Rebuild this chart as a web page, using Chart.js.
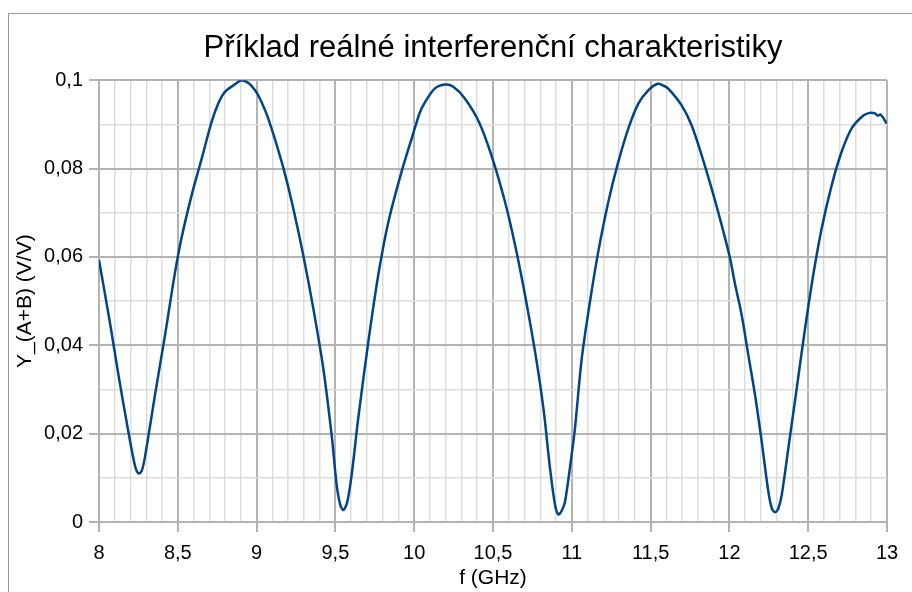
<!DOCTYPE html>
<html>
<head>
<meta charset="utf-8">
<script src="https://cdn.jsdelivr.net/npm/chart.js@4"></script>
<style>
  html, body { margin: 0; padding: 0; background: #fff; }
  #wrap { width: 912px; height: 592px; }
</style>
</head>
<body>
<div id="wrap"><canvas id="chart" width="912" height="592"></canvas></div>
<script>
var freq = [8.00, 8.07, 8.12, 8.186, 8.228, 8.25, 8.27, 8.29, 8.355, 8.419, 8.48, 8.525, 8.588, 8.652, 8.715, 8.76, 8.80, 8.86, 8.905, 8.95, 8.99, 9.02,
  9.074, 9.159, 9.223, 9.296, 9.36, 9.423, 9.476, 9.508, 9.53, 9.55, 9.575, 9.603, 9.645, 9.709, 9.772, 9.836, 9.92, 9.984,
  10.037, 10.07, 10.13, 10.195, 10.248, 10.32, 10.41, 10.49, 10.576, 10.64, 10.703, 10.767, 10.82, 10.862, 10.894, 10.915, 10.935, 10.957, 10.999,
  11.02, 11.063, 11.115, 11.168, 11.232, 11.295, 11.359, 11.422, 11.485, 11.545, 11.58, 11.612, 11.697, 11.76, 11.824, 11.887, 11.951,
  12.004, 12.035, 12.078, 12.12, 12.163, 12.205, 12.247, 12.27, 12.29, 12.31, 12.332, 12.374, 12.427, 12.48, 12.532, 12.585, 12.649, 12.712, 12.776,
  12.85, 12.89, 12.924, 12.94, 12.96, 12.998];
var yAB = [0.0593, 0.0450, 0.0340, 0.0205, 0.0128, 0.0110, 0.0115, 0.0144, 0.0287, 0.0423, 0.0560, 0.0645, 0.0740, 0.0823, 0.0906, 0.0950, 0.0974, 0.0990, 0.1000, 0.0993, 0.0977, 0.0959,
  0.0913, 0.0815, 0.0725, 0.0604, 0.0483, 0.0348, 0.0197, 0.0084, 0.0040, 0.0027, 0.0045, 0.0106, 0.0235, 0.0408, 0.0559, 0.0679, 0.0793, 0.0868,
  0.0928, 0.0951, 0.0981, 0.0990, 0.0985, 0.0959, 0.0906, 0.0830, 0.0725, 0.0627, 0.0514, 0.0385, 0.0257, 0.0121, 0.0038, 0.0017, 0.0025, 0.0046, 0.0152,
  0.0212, 0.0370, 0.0498, 0.0612, 0.0725, 0.0815, 0.0891, 0.0947, 0.0977, 0.0992, 0.0988, 0.0981, 0.0943, 0.0898, 0.0830, 0.0755, 0.0672,
  0.0597, 0.0540, 0.0468, 0.0378, 0.0287, 0.0182, 0.0069, 0.0030, 0.0022, 0.0030, 0.0061, 0.0167, 0.0302, 0.0438, 0.0559, 0.0664, 0.0762, 0.0838, 0.0891,
  0.0920, 0.0926, 0.0925, 0.0920, 0.0922, 0.0902];

var majorColor = '#b3b3b3';
var minorColor = '#dddddd';
var font = 'Liberation Sans';

function xMajor(v) { return Math.round(v * 10) % 5 === 0; }
function yMajor(v) { return Math.round(v * 100) % 2 === 0; }
function comma(v) { return String(v).replace('.', ','); }

var points = freq.map(function (f, i) { return { x: f, y: yAB[i] }; });

var frame = {
  id: 'frame',
  afterDraw: function (chart) {
    var c = chart.ctx;
    c.save();
    c.strokeStyle = '#999999';
    c.lineWidth = 1;
    c.strokeRect(8.5, 13.5, 1000, 1000);
    c.restore();
  }
};

new Chart(document.getElementById('chart'), {
  type: 'scatter',
  data: {
    datasets: [{
      data: points,
      showLine: true,
      borderColor: '#004586',
      borderWidth: 2.5,
      pointRadius: 0,
      tension: 0.3
    }]
  },
  options: {
    responsive: false,
    animation: false,
    devicePixelRatio: 1,
    layout: { padding: { left: 0, right: 25, top: 0, bottom: 0 } },
    plugins: {
      legend: { display: false },
      tooltip: { enabled: false },
      title: {
        display: true,
        text: 'Příklad reálné interferenční charakteristiky',
        fullSize: false,
        color: '#000',
        font: { family: font, size: 31, weight: 'normal' },
        padding: { top: 30, bottom: 13 }
      }
    },
    scales: {
      x: {
        type: 'linear',
        min: 8,
        max: 13,
        afterFit: function (s) { s.height = 70; },
        ticks: {
          stepSize: 0.1,
          autoSkip: false,
          maxRotation: 0,
          padding: 9,
          color: '#000',
          font: { family: font, size: 20 },
          callback: function (v) { return xMajor(v) ? comma(Math.round(v * 10) / 10) : ''; }
        },
        grid: {
          tickLength: 10,
          lineWidth: function (c) { return xMajor(c.tick.value) ? 2 : 1.5; },
          color: function (c) { return xMajor(c.tick.value) ? majorColor : minorColor; },
          tickColor: function (c) { return xMajor(c.tick.value) ? majorColor : 'rgba(0,0,0,0)'; }
        },
        border: { color: majorColor, width: 2 },
        title: {
          display: true,
          text: 'f (GHz)',
          color: '#000',
          font: { family: font, size: 21 },
          padding: { top: 0, bottom: 1 }
        }
      },
      y: {
        min: 0,
        max: 0.1,
        afterFit: function (s) { s.width = 99; },
        ticks: {
          stepSize: 0.01,
          autoSkip: false,
          padding: 6,
          color: '#000',
          font: { family: font, size: 20 },
          callback: function (v) { return yMajor(v) ? comma(Math.round(v * 100) / 100) : ''; }
        },
        grid: {
          tickLength: 10,
          lineWidth: function (c) { return yMajor(c.tick.value) ? 2 : 1.5; },
          color: function (c) { return yMajor(c.tick.value) ? majorColor : minorColor; },
          tickColor: function (c) { return yMajor(c.tick.value) ? majorColor : 'rgba(0,0,0,0)'; }
        },
        border: { color: majorColor, width: 2 },
        title: {
          display: true,
          text: 'Y_(A+B) (V/V)',
          color: '#000',
          font: { family: font, size: 21 },
          padding: { top: 13, bottom: 0 }
        }
      }
    }
  },
  plugins: [frame]
});
</script>
</body>
</html>
